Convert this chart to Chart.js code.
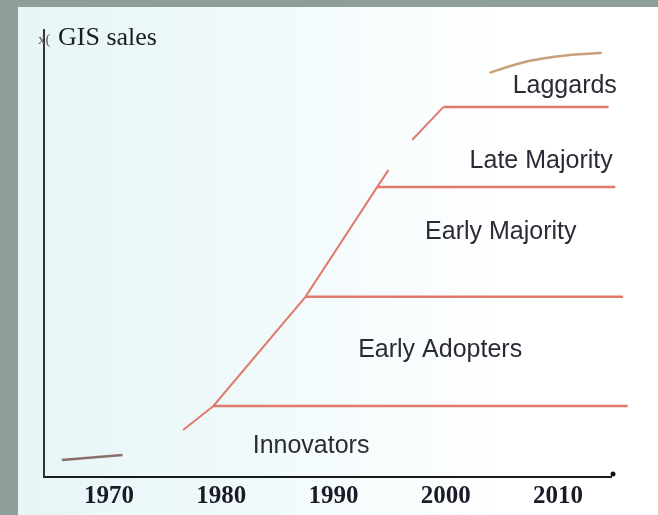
<!DOCTYPE html>
<html>
<head>
<meta charset="utf-8">
<script src="https://cdn.jsdelivr.net/npm/chart.js@4.4.1/dist/chart.umd.min.js"></script>
<style>
  html, body { margin: 0; padding: 0; }
  body { width: 658px; height: 515px; background: #8d9f98; position: relative; overflow: hidden; }
  #panel { position: absolute; left: 18px; top: 7px; width: 640px; height: 508px;
           background: linear-gradient(to right, #e7f5f7 0%, #f1fafb 40%, #ffffff 75%); }
  #wrap { position: absolute; left: 0; top: 0; width: 658px; height: 515px; }
</style>
</head>
<body>
<div id="panel"></div>
<div id="wrap"><canvas id="chart"></canvas></div>
<script>
// GIS sales diffusion curve (adopter categories)

const tickYears = [1970, 1980, 1990, 2000, 2010];

// early short segment (bottom left)
const earlyYears = [1965.8, 1971.2];
const earlySales = [3.8, 4.9];

// main rising curve, with a break before the last part
const riseYears = [1976.6, 1979.3, 1987.5, 1993.9, 1994.9, 1996.0, 1997.0, 1999.8];
const riseSales = [10.5, 15.9, 40.3, 64.9, 68.7, null, 75.4, 82.8];

// flattening tail at the top
const tailYears = [2003.9, 2005.7, 2007.5, 2010.2, 2013.9];
const tailSales = [90.4, 91.9, 93.1, 94.2, 94.9];

// category boundaries (horizontal lines)
const boundaryLevel = [15.9, 40.3, 64.9, 82.8];
const boundaryFrom  = [1979.3, 1987.5, 1993.9, 1999.8];
const boundaryTo    = [2016.2, 2015.8, 2015.1, 2014.5];

const categories = ['Innovators', 'Early Adopters', 'Early Majority', 'Late Majority', 'Laggards'];
const categoryAt = [[1988.0, 5.4], [1999.5, 26.8], [2004.9, 53.2], [2008.5, 69.1], [2010.6, 85.9]];

const RED = '#e07a6c';

function pts(xs, ys) {
    return xs.map((x, i) => ({ x: x, y: ys[i] }));
}

const datasets = [
    { data: pts(earlyYears, earlySales), borderColor: '#8a6f68', borderWidth: 2.5 },
    { data: pts(riseYears, riseSales), borderColor: RED, borderWidth: 2, spanGaps: false },
    { data: pts(tailYears, tailSales), borderColor: '#c9a07c', borderWidth: 2.5, cubicInterpolationMode: 'monotone' }
];
boundaryLevel.forEach((lv, i) => {
    datasets.push({
        data: [{ x: boundaryFrom[i], y: lv }, { x: boundaryTo[i], y: lv }],
        borderColor: RED, borderWidth: 2.5
    });
});
datasets.forEach(d => { d.pointRadius = 0; d.clip = false; d.fill = false; });

const decor = {
    id: 'decor',
    afterDraw(chart) {
        const ctx = chart.ctx;
        const xs = chart.scales.x, ys = chart.scales.y;
        const a = chart.chartArea;
        ctx.save();
        // category names
        ctx.fillStyle = '#2b2b36';
        ctx.font = '25px "Liberation Sans", Arial, sans-serif';
        ctx.textAlign = 'center';
        ctx.textBaseline = 'alphabetic';
        categories.forEach((name, i) => {
            ctx.fillText(name, xs.getPixelForValue(categoryAt[i][0]), ys.getPixelForValue(categoryAt[i][1]));
        });
        // axis title
        ctx.textAlign = 'left';
        ctx.fillStyle = '#1c1c22';
        ctx.font = '26px "Liberation Serif", "Times New Roman", serif';
        ctx.fillText('GIS sales', 58, 45);
        ctx.fillStyle = '#5a5a60';
        ctx.font = '15px "Liberation Serif", serif';
        ctx.fillText('x(', 38, 44);
        // dot at end of x axis
        ctx.fillStyle = '#111';
        ctx.beginPath();
        ctx.arc(a.right + 2, a.bottom - 3, 2.5, 0, Math.PI * 2);
        ctx.fill();
        ctx.restore();
    }
};

new Chart(document.getElementById('chart'), {
    type: 'line',
    data: { datasets: datasets },
    options: {
        responsive: true,
        maintainAspectRatio: false,
        animation: false,
        layout: { padding: { left: 44, right: 47, top: 30, bottom: 0 } },
        plugins: { legend: { display: false }, tooltip: { enabled: false } },
        scales: {
            x: {
                type: 'linear',
                min: 1964.21,
                max: 2014.72,
                grid: { drawOnChartArea: false, drawTicks: false },
                border: { display: true, color: '#1a1a1a', width: 2 },
                afterBuildTicks: s => { s.ticks = tickYears.map(v => ({ value: v })); },
                afterFit: s => { s.height = 38; },
                ticks: {
                    padding: 4.5,
                    color: '#1b1b28',
                    font: { family: '"Liberation Serif", "Times New Roman", serif', size: 25, weight: 'bold' },
                    callback: v => String(v)
                }
            },
            y: {
                min: 0,
                max: 100,
                grid: { drawOnChartArea: false, drawTicks: false },
                border: { display: true, color: '#333', width: 2 },
                ticks: { display: false },
                afterFit: s => { s.width = 0; }
            }
        }
    },
    plugins: [decor]
});
</script>
</body>
</html>
